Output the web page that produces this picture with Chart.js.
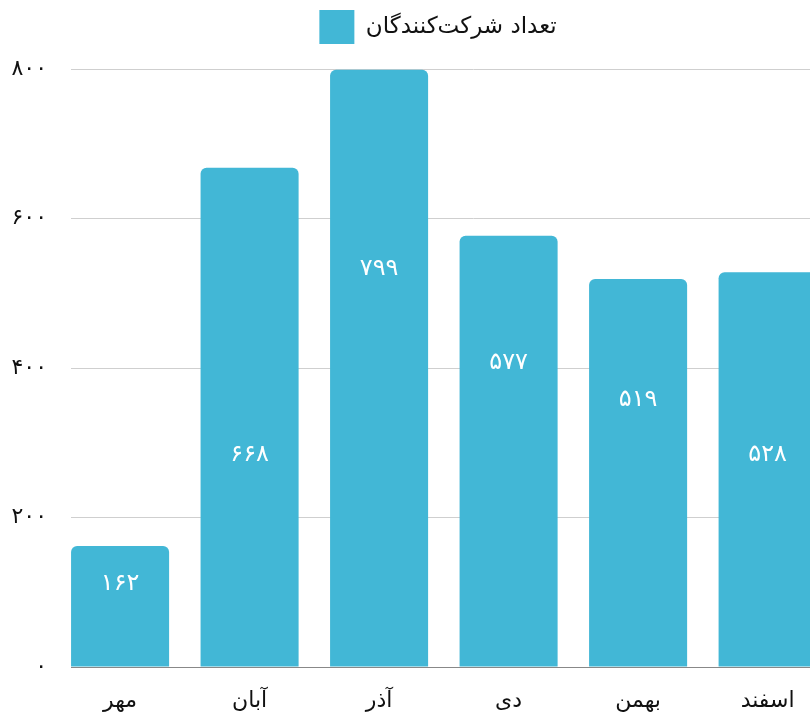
<!DOCTYPE html>
<html>
<head>
<meta charset="utf-8">
<script src="https://cdn.jsdelivr.net/npm/chart.js@4/dist/chart.umd.min.js"></script>
<style>
  html, body { margin: 0; padding: 0; overflow: hidden; background: #fff; }
  #wrap { width: 876px; height: 719px; }
</style>
</head>
<body>
<div id="wrap"><canvas id="chart"></canvas></div>
<script>
var months = ['مهر', 'آبان', 'آذر', 'دی', 'بهمن', 'اسفند'];
var participants = [162, 668, 799, 577, 519, 528];
var seriesName = 'تعداد شرکت‌کنندگان';
var yTicks = [0, 200, 400, 600, 800];

var barColor = '#42b7d6';
var fontName = "'DejaVu Sans', sans-serif";

function toFa(n) {
  return String(n).replace(/\d/g, function (d) { return '۰۱۲۳۴۵۶۷۸۹'[d]; });
}

var points = participants.map(function (v, i) { return { x: i, y: v }; });

// white numbers inside the bars
var barLabels = {
  id: 'barLabels',
  afterDatasetsDraw: function (chart, args, opts) {
    var ctx = chart.ctx;
    var meta = chart.getDatasetMeta(0);
    var y = chart.scales.y;
    ctx.save();
    ctx.fillStyle = '#fff';
    ctx.font = '24px ' + fontName;
    ctx.textAlign = 'center';
    ctx.textBaseline = 'middle';
    meta.data.forEach(function (bar, i) {
      ctx.fillText(toFa(participants[i]), bar.x, y.getPixelForValue(opts.anchors[i]));
    });
    ctx.restore();
  }
};

// a bit more room under the legend
var legendGap = {
  id: 'legendGap',
  beforeInit: function (chart) {
    var fit = chart.legend.fit;
    chart.legend.fit = function () {
      fit.bind(chart.legend)();
      this.height += 15;
    };
  }
};

var ctx = document.getElementById('chart').getContext('2d');
var chart = new Chart(ctx, {
  type: 'bar',
  data: {
    datasets: [{
      label: seriesName,
      data: points,
      backgroundColor: barColor,
      borderWidth: 0,
      borderRadius: 6,
      barPercentage: 0.757,
      categoryPercentage: 1
    }]
  },
  options: {
    responsive: true,
    maintainAspectRatio: false,
    animation: false,
    layout: { padding: 0 },
    plugins: {
      legend: {
        labels: {
          boxWidth: 35,
          boxHeight: 34,
          color: '#111',
          font: { family: fontName, size: 23 }
        }
      },
      tooltip: { enabled: false },
      barLabels: { anchors: [112, 284, 533, 407, 357, 284] }
    },
    scales: {
      x: {
        type: 'linear',
        offset: false,
        min: -0.379,
        max: 5.837,
        afterFit: function (scale) { scale.height = 52; },
        grid: { display: false, offset: false },
        border: { color: '#888', width: 1 },
        ticks: {
          stepSize: 1,
          includeBounds: false,
          padding: 13,
          color: '#111',
          font: { family: fontName, size: 22 },
          callback: function (v) { return months[v] || ''; }
        }
      },
      y: {
        min: 0,
        max: 800,
        afterFit: function (scale) { scale.width = 71; },
        afterBuildTicks: function (scale) {
          scale.ticks = yTicks.map(function (v) { return { value: v }; });
        },
        grid: { color: '#cfcfcf', drawTicks: false },
        border: { display: false },
        ticks: {
          padding: 24,
          color: '#111',
          font: { family: fontName, size: 22 },
          callback: function (v) { return toFa(v); }
        }
      }
    }
  },
  plugins: [barLabels, legendGap]
});
</script>
</body>
</html>
